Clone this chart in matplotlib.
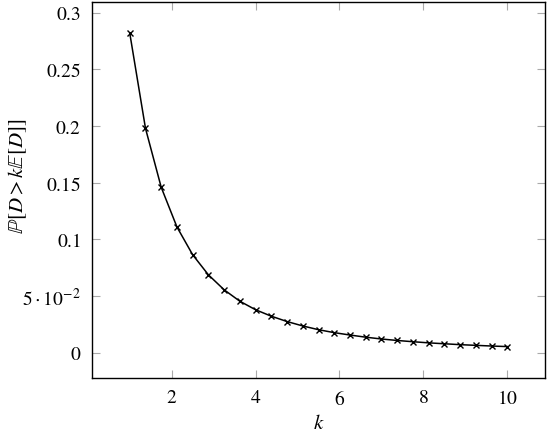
import matplotlib
matplotlib.use("Agg")
import matplotlib.pyplot as plt

k = [1.0, 1.375, 1.75, 2.125, 2.5, 2.875, 3.25, 3.625, 4.0, 4.375, 4.75, 5.125,
     5.5, 5.875, 6.25, 6.625, 7.0, 7.375, 7.75, 8.125, 8.5, 8.875, 9.25, 9.625, 10.0]
prob = [0.282, 0.198, 0.146, 0.111, 0.0865, 0.0688, 0.0556, 0.0455, 0.0380, 0.0323,
        0.0276, 0.0237, 0.0204, 0.0178, 0.0157, 0.0138, 0.0122, 0.0109, 0.0098,
        0.0088, 0.0080, 0.0072, 0.0066, 0.0060, 0.0055]
xticks = [2, 4, 6, 8, 10]
yticks = [0, 0.05, 0.1, 0.15, 0.2, 0.25, 0.3]
yticklabels = ["$0$", r"$5\cdot10^{-2}$", "$0.1$", "$0.15$", "$0.2$", "$0.25$", "$0.3$"]

plt.rcParams['font.family'] = ['STIXGeneral', 'DejaVu Serif']
plt.rcParams['mathtext.fontset'] = 'stix'

fig = plt.figure(figsize=(5.5, 4.39), dpi=100)
ax = fig.add_axes([0.1673, 0.1367, 0.8236, 0.8565])
ax.plot(k, prob, color='black', lw=1.1, marker='x', markersize=5, mew=1.0)
ax.set_xlim(0.1, 10.9)
ax.set_ylim(-0.0222, 0.3095)
ax.set_xticks(xticks)
ax.set_xticklabels(["$%d$" % t for t in xticks])
ax.set_yticks(yticks)
ax.set_yticklabels(yticklabels)
ax.tick_params(direction='in', length=6, width=0.8, color='#aaaaaa',
               top=True, right=True, labelsize=14, pad=8)
for s in ax.spines.values():
    s.set_linewidth(1.0)
ax.set_xlabel(r"$k$", fontsize=15)
ax.xaxis.set_label_coords(0.5, -0.095)
ax.set_ylabel(r"$\mathbb{P}[D > k\mathbb{E}[D]]$", fontsize=15)
ax.yaxis.set_label_coords(-0.14, 0.54)
fig.savefig("out.png", dpi=100)
